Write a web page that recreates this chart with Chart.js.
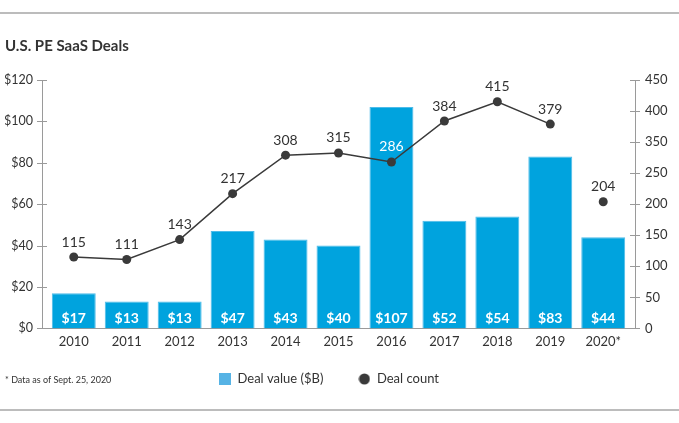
<!DOCTYPE html>
<html>
<head>
<meta charset="utf-8">
<title>U.S. PE SaaS Deals</title>
<script src="https://cdn.jsdelivr.net/npm/chart.js@4.4.1/dist/chart.umd.min.js"></script>
<style>
  html, body { margin: 0; padding: 0; background: #fff; }
  #wrap { position: relative; width: 679px; height: 423px; }
</style>
</head>
<body>
<div id="wrap"><canvas id="saasChart"></canvas></div>
<script>
  // Chart data
  const YEARS = ['2010', '2011', '2012', '2013', '2014', '2015', '2016', '2017', '2018', '2019', '2020*'];
  const DEAL_VALUE = [17, 13, 13, 47, 43, 40, 107, 52, 54, 83, 44];
  const DEAL_COUNT = [115, 111, 143, 217, 308, 315, 286, 384, 415, 379, 204];
  const VALUE_TICKS = [0, 20, 40, 60, 80, 100, 120];
  // the right axis in the source is evenly spaced but skips 300
  const COUNT_TICKS = [0, 50, 100, 150, 200, 250, 350, 400, 450];

  const FONT = 'Lato';
  const TEXT_COLOR = '#333333';
  const AXIS_COLOR = '#9a9a9a';
  const BAR_COLOR = '#00a3de';
  const BAR_EDGE = '#4dbbe9';
  const LEGEND_SQUARE = '#56b3e5';
  const LINE_COLOR = '#3a3a3a';
  const RULE_COLOR = '#a6a6a6';

  // Evenly spaced ticks, linear between them (matches the source axis)
  class SteppedScale extends Chart.LinearScale {
    static id = 'stepped';

    buildTicks() {
      return COUNT_TICKS.map(value => ({ value }));
    }

    getPixelForValue(value) {
      const t = COUNT_TICKS;
      const n = t.length - 1;
      let i = 0;
      while (i < n - 1 && value > t[i + 1]) i++;
      const pos = i + (value - t[i]) / (t[i + 1] - t[i]);
      return this.getPixelForDecimal(pos / n);
    }

    getValueForPixel(pixel) {
      const t = COUNT_TICKS;
      const n = t.length - 1;
      const pos = this.getDecimalForPixel(pixel) * n;
      const i = Math.min(Math.max(Math.floor(pos), 0), n - 1);
      return t[i] + (pos - i) * (t[i + 1] - t[i]);
    }
  }
  Chart.register(SteppedScale);

  function marker(draw) {
    const c = document.createElement('canvas');
    c.width = 12;
    c.height = 12;
    draw(c.getContext('2d'));
    return c;
  }

  const LEGEND_MARKERS = [
    marker(g => { g.fillStyle = LEGEND_SQUARE; g.fillRect(0, 0, 12, 12); }),
    marker(g => { g.fillStyle = LINE_COLOR; g.beginPath(); g.arc(6, 6, 5.5, 0, Math.PI * 2); g.fill(); })
  ];

  const LEGEND_X = 219;
  const LEGEND_Y = 379;
  const LEGEND_PAD = 35;

  const decor = {
    id: 'decor',
    afterLayout(chart) {
      // park the legend where the original has it
      const lg = chart.legend;
      if (!lg) return;
      lg.left = LEGEND_X - LEGEND_PAD;
      lg.top = LEGEND_Y - 6.5 - LEGEND_PAD;
    },
    beforeDraw(chart) {
      const { ctx, width } = chart;
      ctx.save();
      ctx.strokeStyle = RULE_COLOR;
      ctx.lineWidth = 1.5;
      [13, 410].forEach(y => {
        ctx.beginPath();
        ctx.moveTo(0, y);
        ctx.lineTo(width, y);
        ctx.stroke();
      });
      ctx.restore();
    },
    afterDatasetsDraw(chart) {
      const { ctx } = chart;
      const bars = chart.getDatasetMeta(0).data;
      const points = chart.getDatasetMeta(1).data;
      ctx.save();
      ctx.textAlign = 'center';
      ctx.textBaseline = 'middle';

      ctx.font = 'bold 14px ' + FONT;
      ctx.fillStyle = '#ffffff';
      bars.forEach((bar, i) => {
        ctx.fillText('$' + DEAL_VALUE[i], bar.x, bar.base - 10);
      });

      ctx.font = '14px ' + FONT;
      points.forEach((pt, i) => {
        const y = pt.y - 15;
        ctx.fillStyle = y > bars[i].y + 4 ? '#ffffff' : TEXT_COLOR;
        ctx.fillText(String(DEAL_COUNT[i]), pt.x, y);
      });
      ctx.restore();
    },
    afterDraw(chart) {
      const { ctx } = chart;
      ctx.save();
      // tick marks crossing both value axes
      ctx.strokeStyle = AXIS_COLOR;
      ctx.lineWidth = 1;
      ['y', 'y1'].forEach(id => {
        const s = chart.scales[id];
        const x = s.position === 'left' ? s.right : s.left;
        s.ticks.forEach((t, i) => {
          const y = Math.round(s.getPixelForTick(i)) + 0.5;
          ctx.beginPath();
          ctx.moveTo(x - 5, y);
          ctx.lineTo(x + 5, y);
          ctx.stroke();
        });
      });

      ctx.font = '9px ' + FONT;
      ctx.fillStyle = TEXT_COLOR;
      ctx.textAlign = 'left';
      ctx.textBaseline = 'middle';
      ctx.fillText('* Data as of Sept. 25, 2020', 5, 380);
      ctx.restore();
    }
  };

  new Chart(document.getElementById('saasChart'), {
    type: 'bar',
    data: {
      labels: YEARS,
      datasets: [{
        label: 'Deal value ($B)',
        data: DEAL_VALUE,
        yAxisID: 'y',
        backgroundColor: BAR_COLOR,
        borderColor: BAR_EDGE,
        borderWidth: 1,
        borderSkipped: 'bottom',
        categoryPercentage: 1,
        barPercentage: 0.83,
        order: 1
      }, {
        type: 'line',
        label: 'Deal count',
        data: DEAL_COUNT,
        yAxisID: 'y1',
        borderColor: LINE_COLOR,
        borderWidth: 1.5,
        tension: 0,
        pointRadius: 4.5,
        pointHoverRadius: 5.5,
        pointBorderWidth: 0,
        pointBackgroundColor: LINE_COLOR,
        segment: {
          // partial year is not joined to the trend line
          borderColor: ctx => YEARS[ctx.p1DataIndex].endsWith('*') ? 'rgba(0,0,0,0)' : LINE_COLOR
        },
        order: 0
      }]
    },
    options: {
      responsive: true,
      maintainAspectRatio: false,
      animation: false,
      layout: { padding: { left: 5, right: 0, top: 0, bottom: 9 } },
      scales: {
        x: {
          grid: { display: false, drawTicks: false },
          border: { display: true, color: AXIS_COLOR, width: 1 },
          ticks: { color: TEXT_COLOR, font: { family: FONT, size: 13 }, padding: 6, maxRotation: 0 },
          afterBuildTicks: scale => {
            // a little air between the axes and the outer bars
            scale._startValue -= 0.1;
            scale._valueRange += 0.2;
          }
        },
        y: {
          position: 'left',
          min: VALUE_TICKS[0],
          max: VALUE_TICKS[VALUE_TICKS.length - 1],
          afterBuildTicks: scale => { scale.ticks = VALUE_TICKS.map(value => ({ value })); },
          grid: { display: false, drawTicks: false },
          border: { display: true, color: AXIS_COLOR, width: 1 },
          ticks: {
            color: TEXT_COLOR,
            font: { family: FONT, size: 12.5 },
            padding: 9,
            callback: v => '$' + v
          },
          afterFit: scale => { scale.width = 37; }
        },
        y1: {
          type: 'stepped',
          position: 'right',
          min: COUNT_TICKS[0],
          max: COUNT_TICKS[COUNT_TICKS.length - 1],
          grid: { display: false, drawTicks: false },
          border: { display: true, color: AXIS_COLOR, width: 1 },
          ticks: {
            color: TEXT_COLOR,
            font: { family: FONT, size: 13 },
            padding: 10,
            autoSkip: false,
            callback: v => String(v)
          },
          afterFit: scale => { scale.width = 44; }
        }
      },
      plugins: {
        title: {
          display: true,
          text: 'U.S. PE SaaS Deals',
          align: 'start',
          color: TEXT_COLOR,
          font: { family: FONT, size: 15, weight: 'bold' },
          padding: { top: 37, bottom: 25 }
        },
        legend: {
          position: 'bottom',
          align: 'start',
          labels: {
            usePointStyle: true,
            boxWidth: 12,
            boxHeight: 12,
            padding: LEGEND_PAD,
            color: TEXT_COLOR,
            font: { family: FONT, size: 13 },
            generateLabels: chart => {
              const items = Chart.defaults.plugins.legend.labels.generateLabels(chart);
              items.sort((a, b) => a.datasetIndex - b.datasetIndex);
              items.forEach(item => { item.pointStyle = LEGEND_MARKERS[item.datasetIndex]; });
              return items;
            }
          }
        },
        tooltip: { enabled: true }
      }
    },
    plugins: [decor]
  });
</script>
</body>
</html>
